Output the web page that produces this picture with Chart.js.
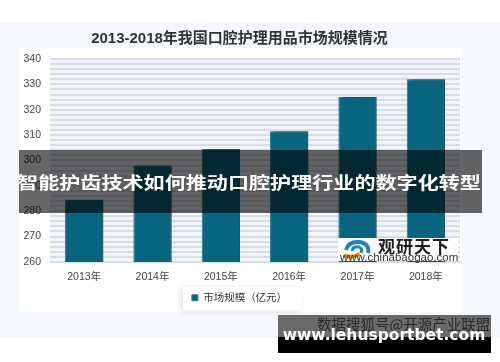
<!DOCTYPE html>
<html>
<head>
<meta charset="utf-8">
<script src="https://cdn.jsdelivr.net/npm/chart.js@4.4.0/dist/chart.umd.min.js"></script>
<style>
  body { margin: 0; width: 500px; height: 362px; overflow: hidden; background: #fff; font-family: 'Liberation Sans', 'Noto Sans CJK SC', sans-serif; }
  #painel { position: absolute; left: 0; top: 23px; width: 500px; height: 314px; background: #f4f8fc; }
  #cartao { position: absolute; left: 19px; top: 48px; width: 443px; height: 264px; background: #fff; }
  #caixaLegenda { position: absolute; left: 183px; top: 287px; width: 120px; height: 23px; background: #fff; box-shadow: -3px 1px 6px rgba(0,0,0,0.12); }
  #grafico { position: absolute; left: 0; top: 0; width: 500px; height: 362px; }
  #marca { position: absolute; left: 338px; top: 238px; width: 120px; height: 23px; background: #fff; }
  #marcaNome { position: absolute; left: 40px; top: -1px; font: bold 17px 'Noto Sans CJK SC'; color: #1e1e1e; letter-spacing: 1px; line-height: 17px; }
  #marcaSite { position: absolute; left: 2px; top: 13px; font: 11.5px 'Liberation Sans'; color: #333; line-height: 12px; }
  #faixa { position: absolute; left: 19px; top: 150px; width: 463px; height: 63px; background: rgba(0,0,0,0.6); }
  #faixaTexto { position: absolute; left: 249px; top: 181px; transform: translate(-50%, -50%) scaleX(1.24); white-space: nowrap; font: bold 17px 'Noto Sans CJK SC'; color: #fff; }
  #rodape { position: absolute; left: 278px; top: 315px; width: 213px; height: 38px; background: #000; }
  #rodapeCinza { position: absolute; left: 0; top: 0; width: 213px; height: 22px; background: #6a6a6a; }
  #fonte { position: absolute; left: 317px; top: 313px; white-space: nowrap; font: 14.5px 'Noto Sans CJK SC'; color: #2a2a2a; }
  #site { position: absolute; left: 384px; top: 335px; transform: translate(-50%, -50%); white-space: nowrap; font: bold 15.5px 'DejaVu Sans'; color: #fff; }
</style>
</head>
<body>
<div id="painel"></div>
<div id="cartao"></div>
<div id="caixaLegenda"></div>
<canvas id="grafico" width="500" height="362"></canvas>
<div id="marca">
  <svg width="34" height="20" style="position:absolute;left:2px;top:1px">
    <path d="M4 16 Q10 20 20 15" stroke="#f08a1c" stroke-width="4" fill="none"/>
    <path d="M6 11 Q8 2 20 3 Q30 5 28 14" stroke="#1f86b5" stroke-width="4" fill="none"/>
    <path d="M12 12 Q13 7 19 8 Q23 10 21 14" stroke="#1f86b5" stroke-width="3" fill="none"/>
  </svg>
  <div id="marcaNome">观研天下</div>
  <div id="marcaSite">www.chinabaogao.com</div>
</div>
<div id="faixa"></div>
<div id="faixaTexto">智能护齿技术如何推动口腔护理行业的数字化转型</div>
<div id="rodape"><div id="rodapeCinza"></div></div>
<div id="fonte">数据搜狐号@开源产业联盟</div>
<div id="site">www.lehusportbet.com</div>

<script>
// dados do gráfico
var anos = ['2013年', '2014年', '2015年', '2016年', '2017年', '2018年'];
var mercado = [284.5, 298, 304.5, 311.5, 325, 332];
var nomeSerie = '市场规模（亿元）';
var titulo = '2013-2018年我国口腔护理用品市场规模情况';
var eixoMin = 260;
var eixoMax = 340;

var fonte = "'Liberation Sans', 'Noto Sans CJK SC', sans-serif";

// fundo da área do gráfico + sombra das barras
var fundoArea = {
  id: 'fundoArea',
  beforeDraw: function (chart) {
    var a = chart.chartArea;
    var c = chart.ctx;
    c.save();
    c.fillStyle = '#f1f5f9';
    c.fillRect(a.left, a.top, a.right - a.left, a.bottom - a.top);
    c.restore();
  },
  beforeDatasetsDraw: function (chart) {
    var c = chart.ctx;
    c.save();
    c.shadowColor = 'rgba(0,0,0,0.45)';
    c.shadowBlur = 4;
    c.shadowOffsetX = 3;
    c.shadowOffsetY = -2;
  },
  afterDatasetsDraw: function (chart) {
    chart.ctx.restore();
  }
};

var ctx = document.getElementById('grafico').getContext('2d');

var grafico1 = new Chart(ctx, {
  type: 'bar',
  data: {
    labels: anos,
    datasets: [{
      label: nomeSerie,
      data: mercado,
      backgroundColor: '#076580',
      borderColor: '#2d7f98',
      borderWidth: 1,
      categoryPercentage: 1,
      barPercentage: 0.56
    }]
  },
  options: {
    responsive: false,
    animation: false,
    layout: { padding: { left: 19, right: 40, top: 30, bottom: 49 } },
    scales: {
      x: {
        grid: { display: false, drawTicks: false },
        border: { display: false },
        ticks: { color: '#444', font: { family: fonte, size: 10.5 }, padding: 9 }
      },
      y: {
        min: eixoMin,
        max: eixoMax,
        border: { display: false },
        grid: { color: '#d6dde4', lineWidth: 2, drawTicks: false },
        ticks: {
          stepSize: 2,
          autoSkip: false,
          color: '#444',
          font: { family: fonte, size: 10.5 },
          padding: 9,
          callback: function (v) { return v % 10 === 0 ? v : ''; }
        },
        afterFit: function (eixo) { eixo.width = 31; }
      }
    },
    plugins: {
      title: {
        display: true,
        text: titulo,
        color: '#333',
        font: { family: fonte, size: 15, weight: 'bold' },
        padding: { top: 0, bottom: 11 }
      },
      legend: {
        position: 'bottom',
        labels: {
          boxWidth: 6,
          boxHeight: 6,
          color: '#333',
          font: { family: fonte, size: 10.5 },
          padding: 0
        }
      },
      tooltip: { enabled: false }
    }
  },
  plugins: [fundoArea]
});
</script>
</body>
</html>
